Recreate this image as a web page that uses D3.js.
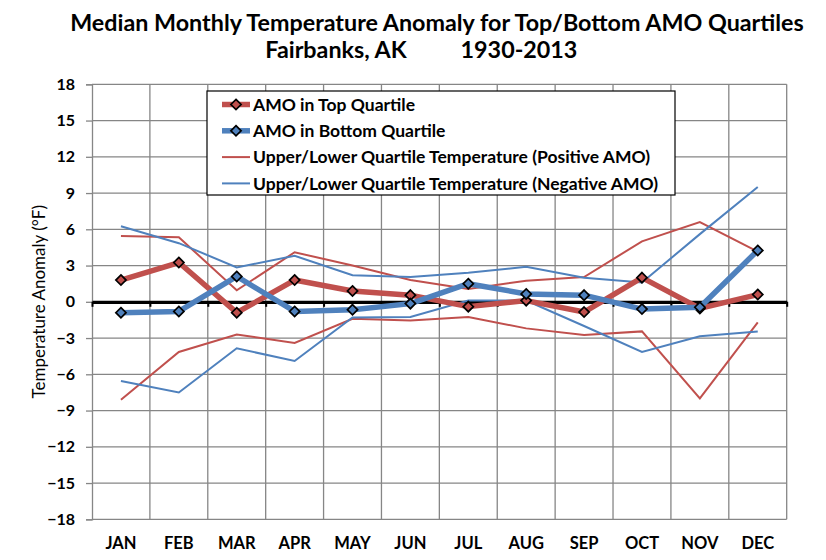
<!DOCTYPE html>
<html lang="en">
  <head>
    <meta charset="UTF-8">
    <title>AMO Quartiles - Fairbanks</title>
    <script src="https://cdn.jsdelivr.net/npm/d3@7"></script>
    <style>
      html, body {
        margin: 0;
        padding: 0;
        background: #fff;
      }
      body {
        font-family: 'Lato', 'Noto Sans', sans-serif;
      }
      .title {
        font-weight: bold;
        font-size: 23.3px;
      }
      .tick-label {
        font-weight: bold;
        font-size: 16px;
      }
      .legend-text {
        font-weight: bold;
        font-size: 17.5px;
      }
    </style>
  </head>
  <body>
    <svg id="chart" width="826" height="560"></svg>
    <script>
      const months = ["JAN", "FEB", "MAR", "APR", "MAY", "JUN", "JUL", "AUG", "SEP", "OCT", "NOV", "DEC"];
      const yTicks = [-18, -15, -12, -9, -6, -3, 0, 3, 6, 9, 12, 15, 18];

      // medians
      const topQuartile = [1.8, 3.25, -0.9, 1.8, 0.9, 0.55, -0.4, 0.1, -0.85, 2.0, -0.55, 0.6];
      const bottomQuartile = [-0.9, -0.8, 2.1, -0.8, -0.65, -0.15, 1.5, 0.65, 0.55, -0.6, -0.45, 4.25];

      // upper / lower quartile temps
      const posUpper = [5.45, 5.35, 0.95, 4.1, 3.0, 1.8, 1.05, 1.75, 2.05, 5.0, 6.6, 4.15];
      const posLower = [-8.1, -4.15, -2.7, -3.4, -1.4, -1.55, -1.25, -2.2, -2.75, -2.45, -8.0, -1.7];
      const negUpper = [6.25, 4.85, 2.85, 3.8, 2.2, 2.05, 2.4, 2.9, 2.0, 1.6, 5.6, 9.5];
      const negLower = [-6.55, -7.5, -3.85, -4.9, -1.3, -1.25, 0.1, 0.1, -2.0, -4.15, -2.85, -2.45];

      const red = "#C0504D";
      const blue = "#4F81BD";
      const grid = "#868686";

      const plotLeft = 92, plotRight = 786.7, plotTop = 84.3, plotBottom = 519.3;

      const svg = d3.select("#chart");

      const x = d3.scaleBand().domain(months).range([plotLeft, plotRight]);
      const y = d3.scaleLinear().domain([-18, 18]).range([plotBottom, plotTop]);
      const xEdge = d3.scaleLinear().domain([0, 12]).range([plotLeft, plotRight]);

      // title
      svg.append("text").attr("class", "title")
        .attr("x", 437).attr("y", 31).attr("text-anchor", "middle")
        .text("Median Monthly Temperature Anomaly for Top/Bottom AMO Quartiles");
      svg.append("text").attr("class", "title")
        .attr("x", 336).attr("y", 58).attr("text-anchor", "middle")
        .text("Fairbanks, AK");
      svg.append("text").attr("class", "title")
        .attr("x", 519).attr("y", 58).attr("text-anchor", "middle")
        .text("1930-2013");

      // grid
      svg.append("g").selectAll("line")
        .data(yTicks).enter().append("line")
        .attr("x1", plotLeft).attr("x2", plotRight)
        .attr("y1", d => y(d)).attr("y2", d => y(d))
        .attr("stroke", grid).attr("stroke-width", 1.3);
      svg.append("g").selectAll("line")
        .data(d3.range(1, 13)).enter().append("line")
        .attr("x1", d => xEdge(d)).attr("x2", d => xEdge(d))
        .attr("y1", plotTop).attr("y2", plotBottom)
        .attr("stroke", grid).attr("stroke-width", 1.3);

      // y axis
      const yAxis = svg.append("g")
        .attr("transform", `translate(${plotLeft},0)`)
        .call(d3.axisLeft(y).tickValues(yTicks).tickSize(6).tickPadding(11));
      yAxis.select(".domain").attr("stroke", grid).attr("stroke-width", 1.3);
      yAxis.selectAll(".tick line").attr("stroke", grid).attr("stroke-width", 1.3);
      yAxis.attr("font-family", null).attr("font-size", null);
      yAxis.selectAll("text").attr("class", "tick-label").attr("fill", "#000");

      svg.append("text")
        .attr("transform", `translate(45,${y(0)}) rotate(-90)`)
        .attr("text-anchor", "middle")
        .attr("font-size", "17px")
        .text("Temperature Anomaly (°F)");

      // month labels
      const xAxis = svg.append("g")
        .attr("transform", `translate(0,${plotBottom})`)
        .call(d3.axisBottom(x).tickSize(0).tickPadding(18));
      xAxis.select(".domain").remove();
      xAxis.attr("font-family", null).attr("font-size", null);
      xAxis.selectAll("text").attr("class", "tick-label").attr("fill", "#000")
        .style("font-size", "16.5px");

      // zero line
      const zero = svg.append("g")
        .attr("transform", `translate(0,${y(0)})`)
        .call(d3.axisBottom(xEdge).ticks(12).tickFormat("").tickSize(5).tickSizeOuter(0));
      zero.select(".domain").attr("stroke", "#000").attr("stroke-width", 3.2);
      zero.selectAll(".tick line").attr("stroke", "#000").attr("stroke-width", 2);

      const line = d3.line()
        .x((d, i) => x(months[i]) + x.bandwidth() / 2)
        .y(d => y(d));

      const thin = [
        { values: posUpper, color: red },
        { values: posLower, color: red },
        { values: negUpper, color: blue },
        { values: negLower, color: blue }
      ];
      svg.append("g").selectAll("path")
        .data(thin).enter().append("path")
        .attr("d", d => line(d.values))
        .attr("fill", "none")
        .attr("stroke", d => d.color)
        .attr("stroke-width", 2);

      const diamond = d3.symbol().type(d3.symbolDiamond2).size(66);

      const thick = [
        { values: topQuartile, color: red },
        { values: bottomQuartile, color: blue }
      ];
      thick.forEach(s => {
        svg.append("path")
          .attr("d", line(s.values))
          .attr("fill", "none")
          .attr("stroke", s.color)
          .attr("stroke-width", 5.5)
          .attr("stroke-linejoin", "round");
        svg.append("g").selectAll("path")
          .data(s.values).enter().append("path")
          .attr("d", diamond)
          .attr("transform", (d, i) => `translate(${x(months[i]) + x.bandwidth() / 2},${y(d)})`)
          .attr("fill", s.color)
          .attr("stroke", "#000")
          .attr("stroke-width", 1.7);
      });

      // legend
      const legendItems = [
        { text: "AMO in Top Quartile", color: red, thick: true },
        { text: "AMO in Bottom Quartile", color: blue, thick: true },
        { text: "Upper/Lower Quartile Temperature (Positive AMO)", color: red, thick: false },
        { text: "Upper/Lower Quartile Temperature (Negative AMO)", color: blue, thick: false }
      ];
      const legend = svg.append("g").attr("transform", "translate(207,91)");
      legend.append("rect")
        .attr("width", 468).attr("height", 104)
        .attr("fill", "#fff").attr("stroke", "#000").attr("stroke-width", 1.2);
      const item = legend.selectAll("g.item")
        .data(legendItems).enter().append("g")
        .attr("class", "item")
        .attr("transform", (d, i) => `translate(0,${13.5 + i * 26.3})`);
      item.append("line")
        .attr("x1", 15).attr("x2", 43)
        .attr("stroke", d => d.color)
        .attr("stroke-width", d => d.thick ? 5.5 : 2);
      item.filter(d => d.thick).append("path")
        .attr("d", diamond)
        .attr("transform", "translate(29,0)")
        .attr("fill", d => d.color)
        .attr("stroke", "#000")
        .attr("stroke-width", 1.7);
      item.append("text").attr("class", "legend-text")
        .attr("x", 46).attr("dy", "0.36em")
        .text(d => d.text);
    </script>
  </body>
</html>
